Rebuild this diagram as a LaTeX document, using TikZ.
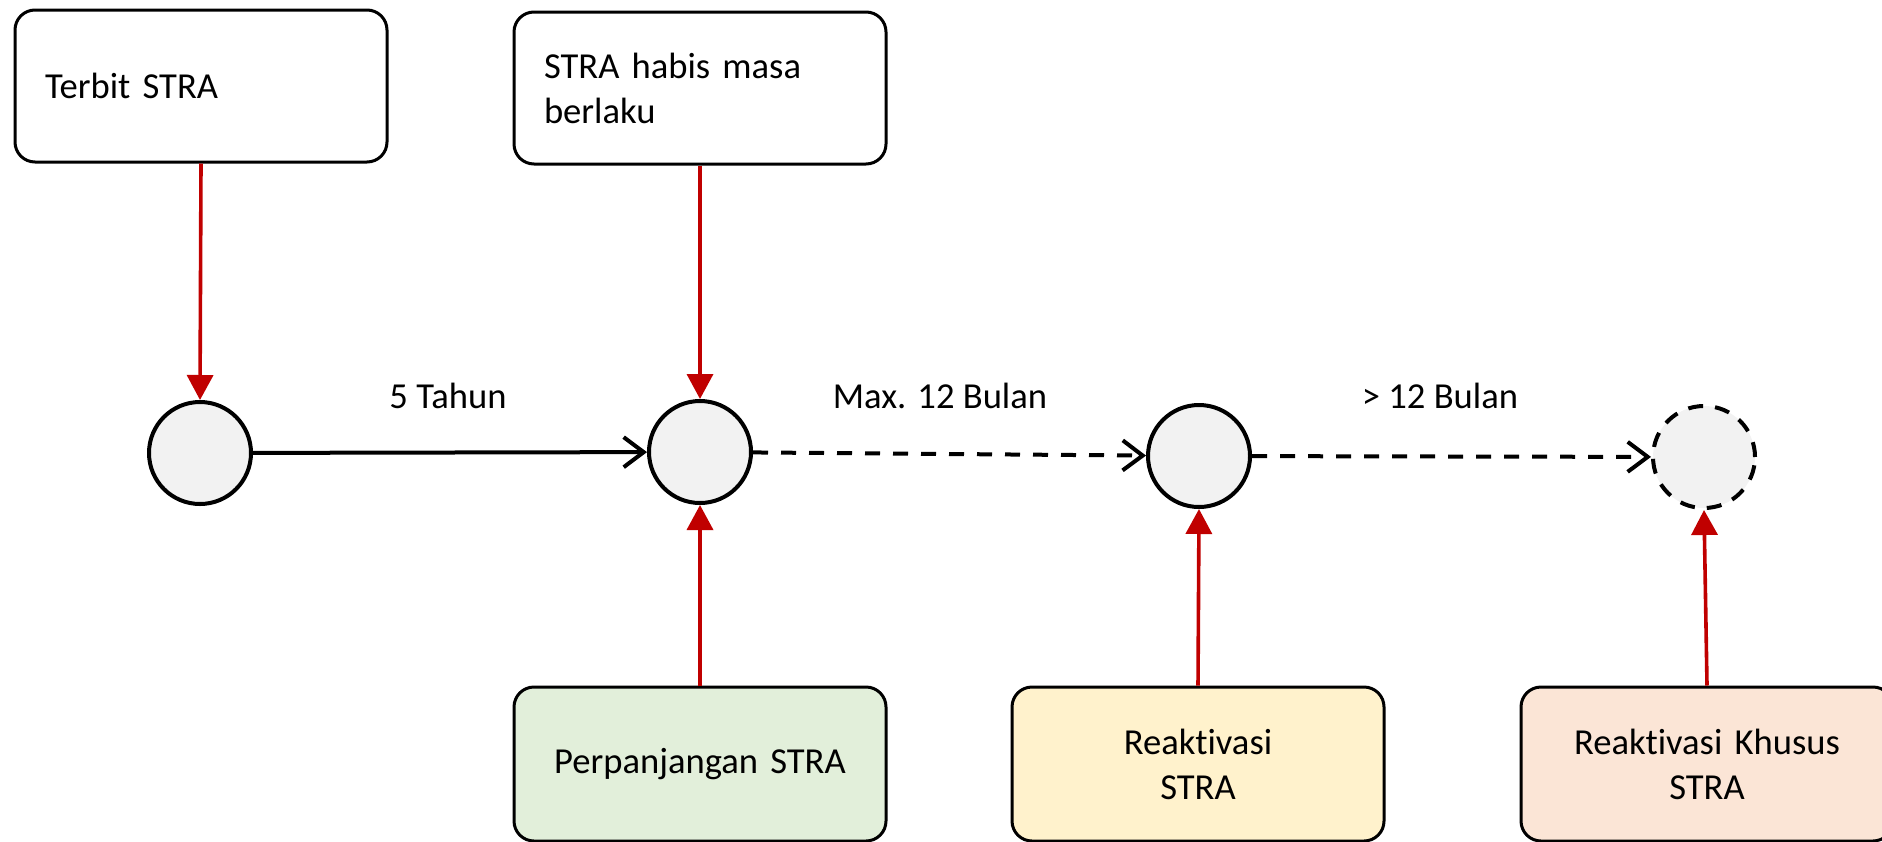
\documentclass[tikz,border=0pt]{standalone}
\usepackage{fontspec}
\setmainfont{Carlito}[Ligatures=NoCommon]
\usetikzlibrary{arrows.meta}
\definecolor{circfill}{HTML}{F2F2F2}
\definecolor{greenfill}{HTML}{E2EFDA}
\definecolor{yellowfill}{HTML}{FFF2CC}
\definecolor{pinkfill}{HTML}{FBE5D6}
\definecolor{redline}{HTML}{C00000}
\begin{document}
\begin{tikzpicture}[x=0.5pt,y=-0.5pt,
  every node/.style={font=\fontsize{18.3}{22.5}\selectfont},
  topbox/.style={draw=black,line width=1.5pt,rounded corners=10pt,fill=white,
    minimum width=186pt,minimum height=76pt,inner xsep=15pt,text width=156pt,align=left},
  botbox/.style={draw=black,line width=1.5pt,rounded corners=10pt,
    minimum width=186pt,minimum height=77pt,inner xsep=10pt,text width=166pt,align=center},
  state/.style={circle,draw=black,line width=2pt,fill=circfill,minimum size=51pt,inner sep=0pt},
  dstate/.style={state,dash pattern=on 7.5pt off 6pt},
  redarrow/.style={draw=redline,line width=1.8pt,-{Triangle[length=12.5pt,width=13pt]}},
  blackarrow/.style={draw=black,line width=2pt,-{Straight Barb[length=10pt,width=15pt,line width=2pt]}},
  dasharrow/.style={blackarrow,dash pattern=on 7.5pt off 6.5pt},
  lbl/.style={inner sep=0pt}]
\useasboundingbox (0,0) rectangle (1882,841);
\clip (0,0) rectangle (1882,841);
% top boxes
\node[topbox] (terbit) at (201,86) {Terbit STRA};
\node[topbox] (habis) at (700,88) {STRA habis masa\\berlaku};
% states
\node[state] (c1) at (200,453) {};
\node[state] (c2) at (700,452) {};
\node[state] (c3) at (1199,456) {};
\node[dstate] (c4) at (1704,457) {};
% bottom boxes
\node[botbox,fill=greenfill] (perp) at (700,764) {Perpanjangan STRA};
\node[botbox,fill=yellowfill] (reak) at (1198,764) {Reaktivasi\\STRA};
\node[botbox,fill=pinkfill] (khusus) at (1707,764) {Reaktivasi Khusus\\STRA};
% labels
\node[lbl] (l1) at (448,396) {5 Tahun};
\node[lbl] (l2) at (940,396) {Max. 12 Bulan};
\node[lbl] (l3) at (1440,396) {> 12 Bulan};
% connectors
\draw[blackarrow] (c1) -- (c2);
\draw[dasharrow] (c2) -- (c3);
\draw[dasharrow] (c3) -- (c4);
\draw[redarrow] (terbit.south) -- (c1.north);
\draw[redarrow] (habis.south) -- (c2.north);
\draw[redarrow] (perp.north) -- (c2.south);
\draw[redarrow] (reak.north) -- (c3.south);
\draw[redarrow] (khusus.north) -- (c4.south);
\end{tikzpicture}
\end{document}
